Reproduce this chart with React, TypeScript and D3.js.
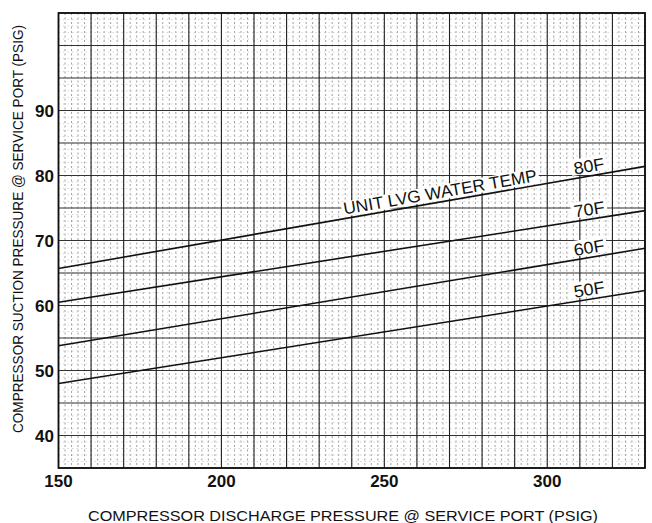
import React from "react";
import * as d3 from "d3";

const xTicks = [150, 200, 250, 300];
const yTicks = [40, 50, 60, 70, 80, 90];
const xDomain = [150, 330];
const yDomain = [35, 105];
const series = [
  { name: "80F", x: [150, 330], y: [65.7, 81.4], labelX: 313 },
  { name: "70F", x: [150, 330], y: [60.5, 74.6], labelX: 313 },
  { name: "60F", x: [150, 330], y: [53.8, 68.8], labelX: 313 },
  { name: "50F", x: [150, 330], y: [48.0, 62.3], labelX: 313 },
];
const curveTitle = "UNIT LVG WATER TEMP";
const xTitle = "COMPRESSOR DISCHARGE PRESSURE @ SERVICE PORT (PSIG)";
const yTitle = "COMPRESSOR SUCTION PRESSURE @ SERVICE PORT (PSIG)";

const W = 652, H = 523;
const L = 58.5, R = 645, T = 13, B = 468;

export default function App() {
  const x = d3.scaleLinear().domain(xDomain).range([L, R]);
  const y = d3.scaleLinear().domain(yDomain).range([B, T]);
  const line = d3.line<[number, number]>().x((d) => x(d[0])).y((d) => y(d[1]));

  const vMinor = d3.range(xDomain[0], xDomain[1] + 0.01, 2);
  const vMajor = d3.range(xDomain[0], xDomain[1] + 0.01, 10);
  const hMinor = d3.range(yDomain[0], yDomain[1] + 0.01, 1);
  const hMajor = d3.range(yDomain[0], yDomain[1] + 0.01, 5);

  const font = "'Liberation Sans', Arial, sans-serif";

  const angleOf = (s: any) => {
    const dx = x(s.x[1]) - x(s.x[0]);
    const dy = y(s.y[1]) - y(s.y[0]);
    return (Math.atan2(dy, dx) * 180) / Math.PI;
  };
  const yAt = (s: any, xv: number) =>
    s.y[0] + ((xv - s.x[0]) / (s.x[1] - s.x[0])) * (s.y[1] - s.y[0]);

  const top = series[0];
  const titleX = 238;

  return (
    <div style={{ position: "absolute", left: 0, top: 0 }}>
      <svg width={W} height={H} style={{ display: "block", background: "#fff" }}>
        <g>
          {vMinor.map((v) => (
            <line key={"vm" + v} x1={x(v)} x2={x(v)} y1={T} y2={B} stroke="#888" strokeWidth={0.8} strokeDasharray="2,2.5" />
          ))}
          {hMinor.map((v) => (
            <line key={"hm" + v} x1={L} x2={R} y1={y(v)} y2={y(v)} stroke="#bbb" strokeWidth={0.6} strokeDasharray="1.5,3" />
          ))}
          {hMajor.map((v) => (
            <line key={"hM" + v} x1={L} x2={R} y1={y(v)} y2={y(v)} stroke="#333" strokeWidth={1} />
          ))}
          {vMajor.map((v) => (
            <line key={"vM" + v} x1={x(v)} x2={x(v)} y1={T} y2={B} stroke="#222" strokeWidth={1.1} />
          ))}
        </g>
        <rect x={L} y={T} width={R - L} height={B - T} fill="none" stroke="#111" strokeWidth={1.8} />

        {series.map((s) => (
          <path key={s.name} d={line(s.x.map((xv, i) => [xv, s.y[i]]) as any) as string} fill="none" stroke="#111" strokeWidth={1.6} />
        ))}

        {series.map((s) => {
          const a = angleOf(s);
          const px = x(s.labelX);
          const py = y(yAt(s, s.labelX));
          return (
            <g key={"lab" + s.name} transform={`translate(${px},${py}) rotate(${a})`}>
              <rect x={-17} y={-19} width={36} height={16} fill="#fff" />
              <text x={1} y={-4} textAnchor="middle" fontFamily={font} fontSize={17} fill="#111" textLength={31} lengthAdjust="spacingAndGlyphs">
                {s.name}
              </text>
            </g>
          );
        })}

        {(() => {
          const a = angleOf(top);
          const px = x(titleX);
          const py = y(yAt(top, titleX));
          return (
            <g transform={`translate(${px},${py}) rotate(${a})`}>
              <rect x={-2} y={-17} width={200} height={15} fill="#fff" />
              <text x={0} y={-4} fontFamily={font} fontSize={17} fill="#111" textLength={196} lengthAdjust="spacingAndGlyphs">
                {curveTitle}
              </text>
            </g>
          );
        })()}

        {xTicks.map((v) => (
          <text key={"xt" + v} x={x(v)} y={487} textAnchor="middle" fontFamily={font} fontSize={17} fontWeight="bold" fill="#111">
            {v}
          </text>
        ))}
        {yTicks.map((v) => (
          <text key={"yt" + v} x={54} y={y(v) + 6} textAnchor="end" fontFamily={font} fontSize={17} fontWeight="bold" fill="#111">
            {v}
          </text>
        ))}

        <text x={(88 + 598) / 2} y={521} textAnchor="middle" fontFamily={font} fontSize={15} fill="#111" textLength={510} lengthAdjust="spacingAndGlyphs">
          {xTitle}
        </text>
        <text transform={`translate(23,${(25 + 433) / 2}) rotate(-90)`} textAnchor="middle" fontFamily={font} fontSize={14.5} fill="#111" textLength={408} lengthAdjust="spacingAndGlyphs">
          {yTitle}
        </text>
      </svg>
    </div>
  );
}
